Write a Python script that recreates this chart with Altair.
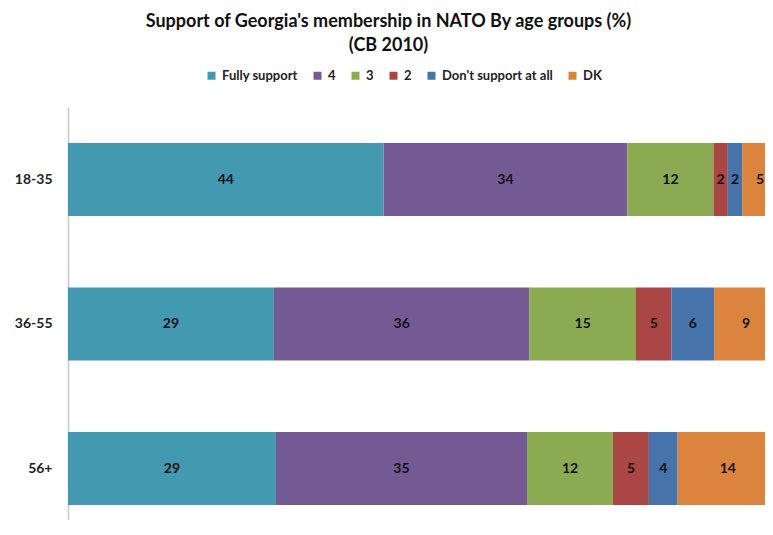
import altair as alt
import pandas as pd

ages = ["18-35", "36-55", "56+"]
categories = ["Fully support", "4", "3", "2", "Don't support at all", "DK"]
v_18_35 = [44, 34, 12, 2, 2, 5]
v_36_55 = [29, 36, 15, 5, 6, 9]
v_56_plus = [29, 35, 12, 5, 4, 14]
colors = ["#4399B0", "#735A93", "#8BAA52", "#AA4644", "#4673A9", "#DB843D"]

rows = []
for age, vals in zip(ages, [v_18_35, v_36_55, v_56_plus]):
    for i, (cat, v) in enumerate(zip(categories, vals)):
        rows.append({"age": age, "cat": cat, "order": i, "value": v})
df = pd.DataFrame(rows)

FONT = "Lato"

base = alt.Chart(df).transform_stack(
    stack="value",
    as_=["v0", "v1"],
    groupby=["age"],
    sort=[alt.SortField("order")],
    offset="normalize",
)

y_enc = alt.Y(
    "age:N",
    sort=ages,
    title=None,
    scale=alt.Scale(paddingInner=0.495, paddingOuter=0.1765, align=0.706),
    axis=alt.Axis(
        domain=True, domainColor="#C8C8C8", domainWidth=1.5, ticks=False,
        labelPadding=16, labelFont=FONT, labelFontSize=14, labelFontWeight="bold",
        labelColor="#222222", grid=False,
    ),
)
x_scale = alt.Scale(domain=[0, 0.9817], nice=False, zero=True)

bars = base.mark_bar(clip=True).encode(
    y=y_enc,
    x=alt.X("v0:Q", scale=x_scale, axis=None),
    x2="v1:Q",
    color=alt.Color(
        "cat:N",
        scale=alt.Scale(domain=categories, range=colors),
        sort=categories,
        legend=alt.Legend(
            orient="none", legendX=137, legendY=-38, direction="horizontal",
            title=None, symbolType="square", symbolSize=64, symbolStrokeWidth=0,
            labelFont=FONT, labelFontSize=13, labelFontWeight="bold",
            labelColor="#222222", columnPadding=13, symbolOffset=0, labelOffset=4,
        ),
    ),
)

text = base.transform_calculate(mid="(datum.v0 + datum.v1) / 2").mark_text(
    font=FONT, fontSize=14, fontWeight="bold", color="#111111"
).encode(
    y=y_enc,
    x=alt.X("mid:Q", scale=x_scale, axis=None),
    text="value:Q",
)

chart = alt.layer(bars, text).properties(
    width=697,
    height=413,
    autosize=alt.AutoSizeParams(type="none"),
    padding={"left": 60, "top": 99, "right": 0, "bottom": 0},
    title=alt.TitleParams(
        text=["Support of Georgia's membership in NATO By age groups (%)", "(CB 2010)"],
        font=FONT, fontSize=18, fontWeight="bold", color="#111111",
        anchor="middle", frame="group", dx=-28, offset=14, lineHeight=24,
    ),
).configure_view(stroke=None)

chart.save("out.html", embed_options={"renderer": "svg", "actions": False})
